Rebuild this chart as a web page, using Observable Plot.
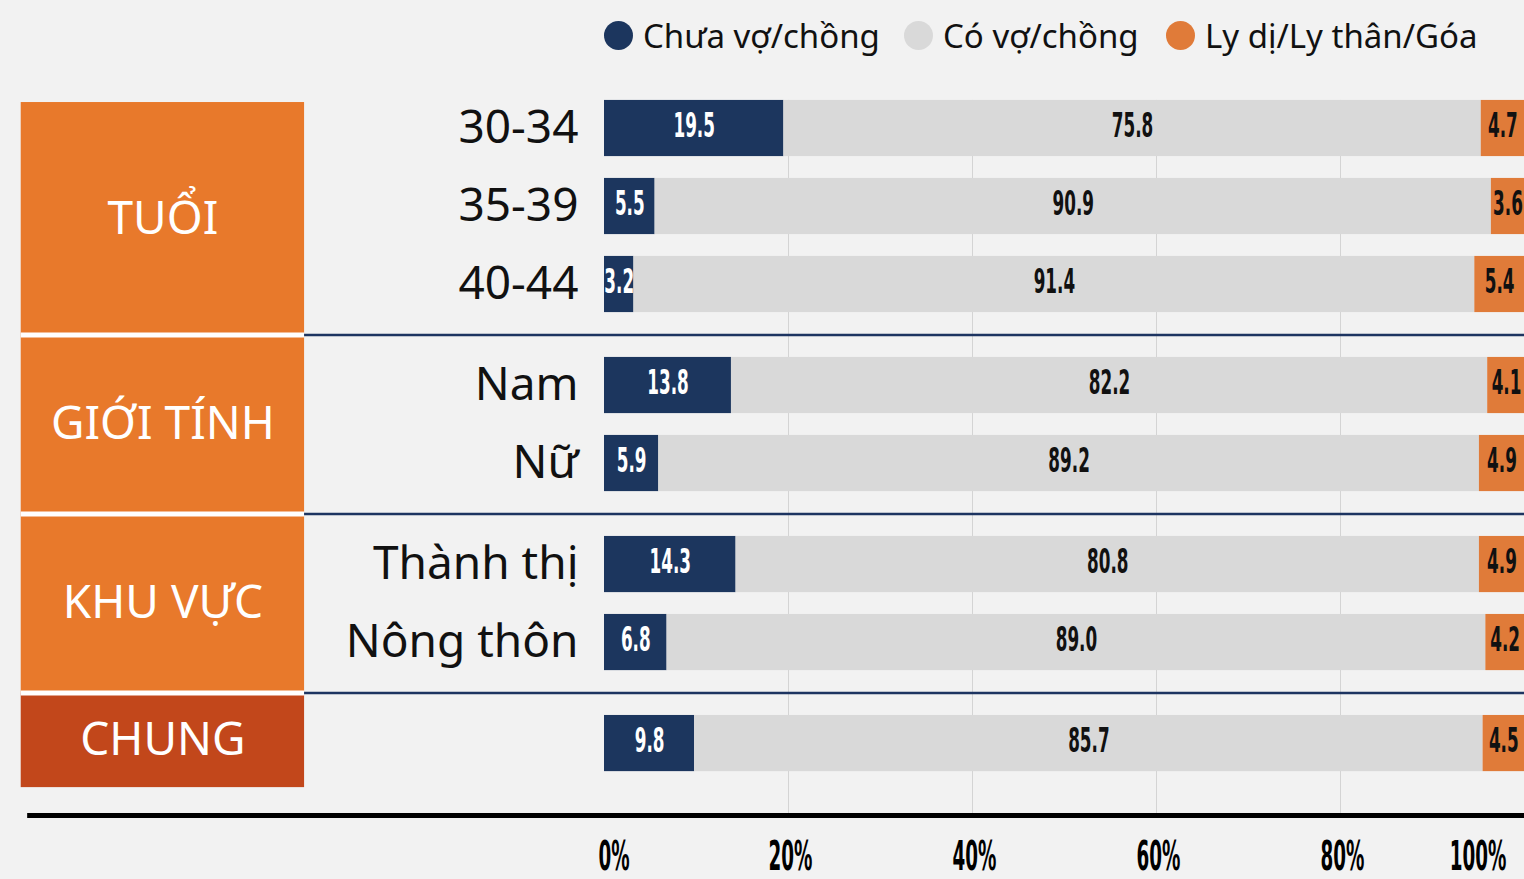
<!DOCTYPE html>
<html><head><meta charset="utf-8">
<script src="https://cdn.jsdelivr.net/npm/d3@7"></script>
<script src="https://cdn.jsdelivr.net/npm/@observablehq/plot@0.6"></script>
<style>
html,body{margin:0;padding:0;background:#f2f2f2;overflow:hidden;}
#legend{height:72px;position:relative;font-family:"Noto Sans",sans-serif;font-size:33px;color:#111;}
.item{position:absolute;top:-1px;height:72px;display:flex;align-items:center;white-space:nowrap;}
.dot{width:29px;height:29px;border-radius:50%;margin-right:10px;flex:none;}
#chart svg{display:block;}
</style></head><body>
<div id="legend"></div><div id="chart"></div>
<script>
// ---- data ----
const rowLabels = ["30-34","35-39","40-44","Nam","Nữ","Thành thị","Nông thôn",""];
const groupNames = ["TUỔI","GIỚI TÍNH","KHU VỰC","CHUNG"];
const rowGroup = [0,0,0,1,1,2,2,3];
const seriesNames = ["Chưa vợ/chồng","Có vợ/chồng","Ly dị/Ly thân/Góa"];
const unmarried = [19.5,5.5,3.2,13.8,5.9,14.3,6.8,9.8];
const married   = [75.8,90.9,91.4,82.2,89.2,80.8,89.0,85.7];
const divorced  = [4.7,3.6,5.4,4.1,4.9,4.9,4.2,4.5];
const tickValues = [0,20,40,60,80,100];
const tickLabels = ["0%","20%","40%","60%","80%","100%"];

// ---- styles / layout ----
const colors = ["#1c365e","#d9d9d9","#e07b39"];
const labelColors = ["#ffffff","#111111","#111111"];
const boxColors = ["#e8792b","#e8792b","#e8792b","#c2471b"];
const W = 1524, H = 807;
const GROUP_GAP = 0.295, BAR_HALF = 0.36;
const BOX_X1 = -63.4, BOX_X2 = -32.6, AXIS_X1 = -62.7;
const AXIS_Y = 8.808, TICK_Y = 9.346;

// legend (HTML, above the SVG)
const legend = document.getElementById("legend");
const legendLeft = [604, 904, 1166];
seriesNames.forEach((s, i) => {
  const it = document.createElement("div");
  it.className = "item";
  it.style.left = legendLeft[i] + "px";
  it.innerHTML = `<span class="dot" style="background:${colors[i]}"></span><span>${s}</span>`;
  legend.appendChild(it);
});

// derived tables
const pos = rowLabels.map((_, i) => i + rowGroup[i] * GROUP_GAP);
const series = [unmarried, married, divorced];
const segs = [];
rowLabels.forEach((r, i) => {
  let acc = 0;
  series.forEach((vals, k) => {
    const v = vals[i];
    segs.push({row: i, k, v, x1: acc, x2: acc + v, y: pos[i]});
    acc += v;
  });
});
const groups = groupNames.map((name, g) => {
  const idx = rowGroup.map((gg, i) => gg === g ? i : -1).filter(i => i >= 0);
  const first = idx[0], last = idx[idx.length - 1];
  const top = g === 0 ? pos[first] - 0.333 : (pos[first - 1] + pos[first]) / 2;
  const bottom = g === groupNames.length - 1 ? pos[last] + 0.565 : (pos[last] + pos[last + 1]) / 2;
  return {name, g, top, bottom};
});
const seps = groups.slice(1).map(d => d.top);
const ticks = tickValues.map((v, i) => ({v, label: tickLabels[i]}));

const narrow = "'Liberation Sans Narrow','DejaVu Sans Condensed','Arial Narrow',sans-serif";
const sans = "'Noto Sans',sans-serif";

const chart = Plot.plot({
  width: W, height: H,
  marginLeft: 0, marginRight: 0, marginTop: 0, marginBottom: 0,
  style: {background: "transparent", overflow: "hidden"},
  x: {domain: [0, 100], range: [604, 1524], axis: null},
  y: {type: "linear", domain: [-0.718, 9.628], range: [0, H], axis: null},
  marks: [
    // gridlines
    Plot.ruleX(tickValues.slice(1, -1), {x: d => d, y1: -BAR_HALF, y2: AXIS_Y, stroke: "#d4d4d4", strokeWidth: 1}),
    // category boxes
    Plot.rect(groups, {x1: BOX_X1, x2: BOX_X2, y1: "top", y2: "bottom", fill: d => boxColors[d.g]}),
    Plot.ruleY(seps, {y: d => d, x1: BOX_X1, x2: BOX_X2, stroke: "#ffffff", strokeWidth: 5}),
    Plot.ruleY(seps, {y: d => d, x1: BOX_X2, x2: 100, stroke: "#1d3461", strokeWidth: 2.5}),
    Plot.text(groups, {x: (BOX_X1 + BOX_X2) / 2, y: d => (d.top + d.bottom) / 2, text: "name", fill: "#ffffff", fontSize: 46, fontFamily: sans}),
    // bars
    Plot.rect(segs, {x1: "x1", x2: "x2", y1: d => d.y - BAR_HALF, y2: d => d.y + BAR_HALF, fill: d => colors[d.k]}),
    Plot.text(segs, {x: d => (d.x1 + d.x2) / 2, y: "y", dy: -2, text: d => d.v.toFixed(1), fill: d => labelColors[d.k], fontSize: 34, fontWeight: "bold", fontFamily: narrow}),
    // row labels
    Plot.text(rowLabels.map((r, i) => ({r, y: pos[i]})), {x: 0, y: "y", text: "r", dx: -26, textAnchor: "end", fill: "#111111", fontSize: 46, fontFamily: sans}),
    // axis baseline
    Plot.ruleY([AXIS_Y], {x1: AXIS_X1, x2: 100, stroke: "#000000", strokeWidth: 5}),
    // tick labels
    Plot.text(ticks.slice(0, 1), {x: "v", y: TICK_Y, text: "label", textAnchor: "start", dx: -6, fill: "#000", fontSize: 40, fontWeight: "bold", fontFamily: narrow}),
    Plot.text(ticks.slice(1, -1), {x: "v", y: TICK_Y, text: "label", dx: 2, fill: "#000", fontSize: 40, fontWeight: "bold", fontFamily: narrow}),
    Plot.text(ticks.slice(-1), {x: "v", y: TICK_Y, text: "label", textAnchor: "end", dx: -18, fill: "#000", fontSize: 40, fontWeight: "bold", fontFamily: narrow})
  ]
});

// condense the number labels horizontally
function squeeze(sel, s) {
  for (const t of chart.querySelectorAll(sel)) {
    const tr = t.getAttribute("transform");
    if (tr) t.setAttribute("transform", tr + ` scale(${s},1)`);
    else {
      const x = +t.getAttribute("x") || 0, y = +t.getAttribute("y") || 0;
      t.removeAttribute("x"); t.removeAttribute("y");
      t.setAttribute("transform", `translate(${x},${y}) scale(${s},1)`);
    }
  }
}
squeeze('g[font-size="34"] text', 0.55);
squeeze('g[font-size="40"] text', 0.51);
document.getElementById("chart").appendChild(chart);
</script>
</body></html>
